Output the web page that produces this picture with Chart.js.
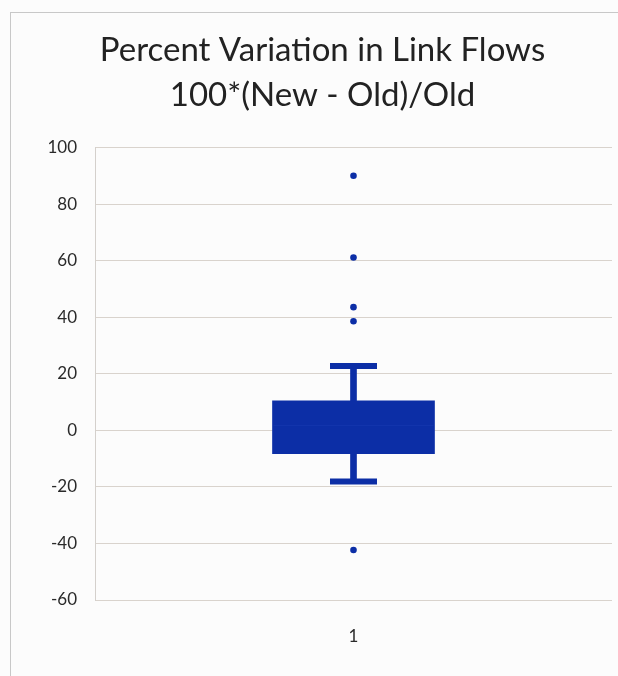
<!DOCTYPE html>
<html lang="en">
<head>
    <meta charset="UTF-8">
    <title>Percent Variation in Link Flows</title>
    <style>
        html, body {
            margin: 0;
            padding: 0;
            overflow: hidden;
            background-color: #fcfcfc;
        }
        .frame {
            position: absolute;
            left: 10px;
            top: 12px;
            width: 700px;
            height: 700px;
            border: 1px solid #c8c8c8;
            pointer-events: none;
        }
        #boxChart {
            position: absolute;
            left: 0;
            top: 0;
        }
    </style>
    <script src="https://cdn.jsdelivr.net/npm/chart.js"></script>
</head>
<body>
    <canvas id="boxChart" width="618" height="676"></canvas>
    <div class="frame"></div>

    <script>
        // Box plot values (percent)
        const categories = ['1'];
        const whiskerLow = [-18.1];
        const quartile1 = [-8.2];
        const median = [1.7];
        const quartile3 = [10.5];
        const whiskerHigh = [22.8];
        const outliers = [90.1, 61.2, 43.6, 38.6, -42.3];
        const yTicks = [100, 80, 60, 40, 20, 0, -20, -40, -60];

        const boxBlue = '#0c2ea6';

        // floating bars for the box and whisker stems
        const boxRanges = categories.map((c, i) => [quartile1[i], quartile3[i]]);
        const upperStems = categories.map((c, i) => [quartile3[i], whiskerHigh[i]]);
        const lowerStems = categories.map((c, i) => [whiskerLow[i], quartile1[i]]);
        const capPoints = categories.flatMap((c, i) => [
            { x: c, y: whiskerHigh[i] },
            { x: c, y: whiskerLow[i] }
        ]);
        const outlierPoints = outliers.map(v => ({ x: categories[0], y: v }));

        const ctx = document.getElementById('boxChart').getContext('2d');
        const boxChart = new Chart(ctx, {
            data: {
                labels: categories,
                datasets: [
                    {
                        type: 'bar',
                        data: boxRanges,
                        backgroundColor: boxBlue,
                        borderWidth: 0,
                        barThickness: 162,
                        grouped: false,
                        order: 3
                    },
                    {
                        type: 'bar',
                        data: upperStems,
                        backgroundColor: boxBlue,
                        barThickness: 6,
                        grouped: false,
                        order: 4
                    },
                    {
                        type: 'bar',
                        data: lowerStems,
                        backgroundColor: boxBlue,
                        barThickness: 6,
                        grouped: false,
                        order: 4
                    },
                    {
                        type: 'line',
                        data: capPoints,
                        showLine: false,
                        pointStyle: 'line',
                        pointRadius: 23.5,
                        pointBorderWidth: 6,
                        pointBorderColor: boxBlue,
                        pointBackgroundColor: boxBlue,
                        order: 2
                    },
                    {
                        // median hidden in the box, same as the reference
                        type: 'line',
                        data: categories.map((c, i) => ({ x: c, y: median[i] })),
                        showLine: false,
                        pointStyle: 'line',
                        pointRadius: 80,
                        pointBorderWidth: 1,
                        pointBorderColor: '#1336ad',
                        order: 1
                    },
                    {
                        type: 'line',
                        data: outlierPoints,
                        showLine: false,
                        pointStyle: 'circle',
                        pointRadius: 3.3,
                        pointBorderWidth: 0,
                        pointBackgroundColor: boxBlue,
                        order: 0
                    }
                ]
            },
            options: {
                responsive: false,
                animation: false,
                layout: {
                    autoPadding: false,
                    padding: { top: 28, left: 33, right: 6, bottom: 0 }
                },
                scales: {
                    x: {
                        type: 'category',
                        grid: { display: false, drawTicks: false },
                        border: { display: false },
                        ticks: {
                            padding: 26,
                            color: '#2a2a2a',
                            font: { family: 'Lato', size: 17 }
                        },
                        afterFit: (scale) => { scale.height = 76; }
                    },
                    y: {
                        min: -60,
                        max: 100,
                        afterBuildTicks: (scale) => {
                            scale.ticks = yTicks.map(v => ({ value: v }));
                        },
                        grid: {
                            color: '#d9d3cd',
                            lineWidth: 1,
                            drawTicks: false
                        },
                        border: { display: true, color: '#d4d0cc' },
                        ticks: {
                            padding: 18,
                            color: '#2a2a2a',
                            font: { family: 'Lato', size: 17 }
                        },
                        afterFit: (scale) => { scale.width = 62; }
                    }
                },
                plugins: {
                    legend: { display: false },
                    tooltip: { enabled: false },
                    title: {
                        display: true,
                        text: ['Percent Variation in Link Flows', '100*(New - Old)/Old'],
                        color: '#222222',
                        font: { family: 'Lato', size: 33, weight: 'normal', lineHeight: 1.36 },
                        padding: { top: 0, bottom: 30 }
                    }
                }
            }
        });
    </script>
</body>
</html>
